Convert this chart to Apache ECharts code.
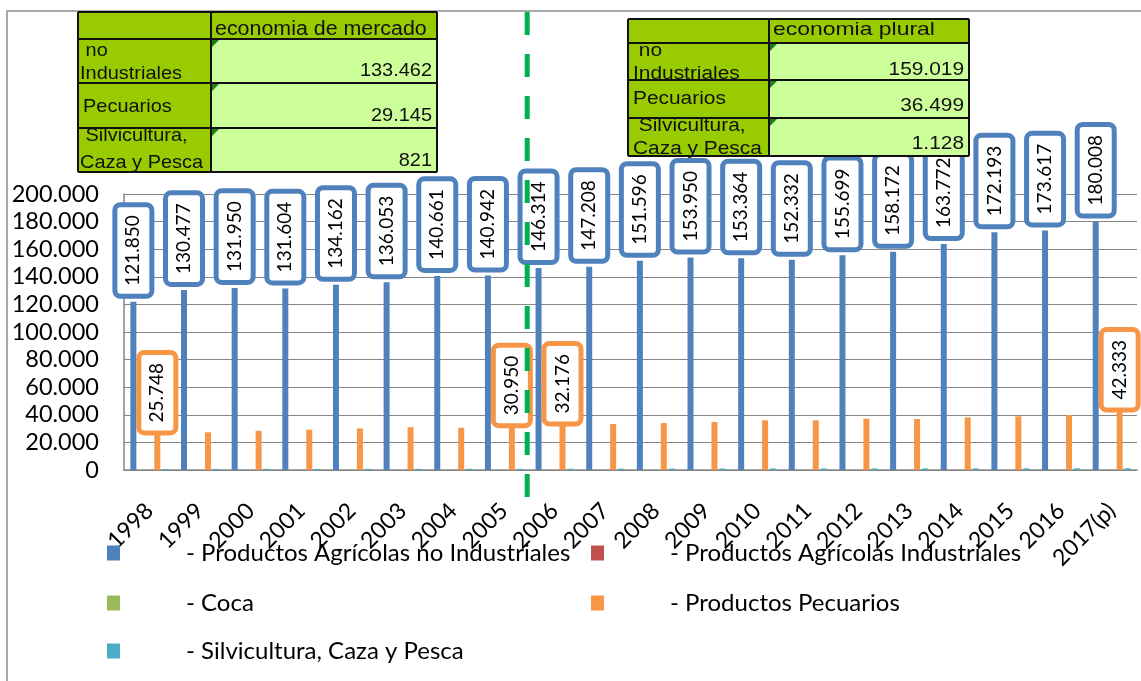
<!DOCTYPE html>
<html><head><meta charset="utf-8">
<script src="https://cdn.jsdelivr.net/npm/echarts@6/dist/echarts.min.js"></script>
<style>html,body{margin:0;padding:0;background:#fff}#c{width:1141px;height:681px}</style>
</head><body><div id="c"></div>
<script>
// ---- data ----
const years = ['1998','1999','2000','2001','2002','2003','2004','2005','2006','2007','2008','2009','2010','2011','2012','2013','2014','2015','2016','2017(p)'];
const agricNoInd = [121850,130477,131950,131604,134162,136053,140661,140942,146314,147208,151596,153950,153364,152332,155699,158172,163772,172193,173617,180008];
const agricInd = [0,0,0,0,0,0,0,0,0,0,0,0,0,0,0,0,0,0,0,0];
const coca = [0,0,0,0,0,0,0,0,0,0,0,0,0,0,0,0,0,0,0,0];
const pecuarios = [25748,27300,28400,29200,30100,31000,30600,30950,32176,33300,34000,34800,36000,36000,37200,36900,38100,38900,39800,42333];
const silvicultura = [760,780,800,810,830,840,850,880,950,1000,1040,1080,1100,1120,1140,1160,1180,1200,1220,1250];
const labelledPecuarios = ['1998','2005','2006','2017(p)'];
const seriesNames = ['- Productos Agrícolas no Industriales','- Productos Agrícolas Industriales','- Coca','- Productos Pecuarios','- Silvicultura, Caza y Pesca'];
const yMin = 0, yMax = 200000, yStep = 20000;
const mercadoHeader = 'economia de mercado';
const pluralHeader = 'economia plural';
const mercadoValues = ['133.462','29.145','821'];
const pluralValues = ['159.019','36.499','1.128'];
const boundaryYears = ['2005','2006'];

// ---- styles ----
const colors = ['#4F81BD','#C0504D','#9BBB59','#F79646','#4BACC6'];
const fmt = v => (v === 0 ? '0' : (v/1000).toFixed(3));
const FONT = 'Lato';
function labelStyle(color, dist){
  return {show:true, position:'top', rotate:90, align:'left', verticalAlign:'middle', distance:dist,
    fontFamily:FONT, fontSize:19, lineHeight:20, color:'#000', backgroundColor:'#fff',
    borderColor:color, borderWidth:5, borderRadius:3, padding:[6,8,6,8],
    formatter: p => fmt(p.value)};
}
const seriesData = [agricNoInd, agricInd, coca, pecuarios, silvicultura];
const series = seriesData.map((d,i) => {
  const s = {name:seriesNames[i], type:'bar', barWidth:6, barGap:'33%', itemStyle:{color:colors[i]}, data:d, z:2};
  if (i === 0) s.label = labelStyle(colors[0], 8);
  if (i === 3) {
    s.data = d.map((v,k) => labelledPecuarios.includes(years[k]) ? {value:v, label:labelStyle(colors[3], 4)} : v);
  }
  return s;
});

const legendPos = [[107,539],[591,539],[107,589],[591,589],[107,637]];
const legends = seriesNames.map((n,i) => ({
  data:[n], left:legendPos[i][0], top:legendPos[i][1], padding:0, orient:'horizontal',
  icon:'rect', itemWidth:13, itemHeight:15, selectedMode:false,
  textStyle:{fontFamily:FONT, fontSize:24, color:'#000', lineHeight:28, padding:[0,0,0,61]}
}));

const chart = echarts.init(document.getElementById('c'), null, {renderer:'canvas'});
chart.setOption({
  animation:false,
  backgroundColor:'#fff',
  color:colors,
  grid:{left:124, right:4, top:194, bottom:211, containLabel:false},
  legend:legends,
  xAxis:{type:'category', data:years, boundaryGap:true,
    axisLine:{lineStyle:{color:'#868686', width:1.5}}, axisTick:{show:false},
    axisLabel:{interval:0, rotate:45, margin:37, fontFamily:FONT, fontSize:23, color:'#000'}},
  yAxis:{type:'value', min:yMin, max:yMax, interval:yStep,
    axisLine:{show:true, lineStyle:{color:'#868686', width:1.5}}, axisTick:{show:false},
    splitLine:{lineStyle:{color:'#868686', width:1}},
    axisLabel:{margin:25, fontFamily:FONT, fontSize:23.5, color:'#000', formatter:fmt}},
  series:series
});

// ---- overlays: frame, tables, divider ----
const DK = '#99CC00', LT = '#CCFF99', TRI = '#1E7B1E', ZT = 100;
function table(L, header, values, fs, sx, hfs, hsx, labelDefs){
  const els = [];
  const [x0,x1,x2] = L.xs, ys = L.ys;
  els.push({type:'rect', z:ZT, shape:{x:x0,y:ys[0],width:x2-x0,height:ys[1]-ys[0]}, style:{fill:DK}});
  for (let r=0;r<3;r++){
    els.push({type:'rect', z:ZT, shape:{x:x0,y:ys[r+1],width:x1-x0,height:ys[r+2]-ys[r+1]}, style:{fill:DK}});
    els.push({type:'rect', z:ZT, shape:{x:x1,y:ys[r+1],width:x2-x1,height:ys[r+2]-ys[r+1]}, style:{fill:LT}});
    els.push({type:'polygon', z:ZT+1, shape:{points:[[x1+1,ys[r+1]+1],[x1+8,ys[r+1]+1],[x1+1,ys[r+1]+8]]}, style:{fill:TRI}});
  }
  const ts = (t,x,y,align,f,s) => ({type:'text', z:ZT+1, x:x, y:y, scaleX:s, style:{text:t, fontFamily:'Liberation Sans', fontSize:f, fill:'#111', align:align, verticalAlign:'middle'}});
  els.push(ts(header, L.hx, L.hy, 'left', hfs, hsx));
  labelDefs.forEach(d => els.push(ts(d[0], d[1], d[2], 'left', fs, sx)));
  values.forEach((v,i) => els.push(ts(v, L.vx, L.vy[i], 'right', fs, sx)));
  ys.forEach(y => els.push({type:'line', z:ZT+2, shape:{x1:x0,y1:y,x2:x2,y2:y}, style:{stroke:'#111', lineWidth:2}}));
  [x0,x1,x2].forEach(x => els.push({type:'line', z:ZT+2, shape:{x1:x,y1:ys[0],x2:x,y2:ys[4]}, style:{stroke:'#111', lineWidth:2}}));
  return els;
}
const Lm = {xs:[78,211,437], ys:[12,39,83,128,172], hx:215, hy:29, vx:432, vy:[71,116,161]};
const Lp = {xs:[628,769,969], ys:[19,43,80,118,156], hx:773, hy:30, vx:964, vy:[70,106,144]};
const rowLabelsM = [[' no',80,51],['Industriales',80,74],['Pecuarios',83,107],[' Silvicultura,',80,136],['Caza y Pesca',80,163]];
const rowLabelsP = [[' no',633,51],['Industriales',633,74],['Pecuarios',633,99],[' Silvicultura,',633,126],['Caza y Pesca',633,149]];

const xa = chart.convertToPixel({xAxisIndex:0}, boundaryYears[0]);
const xb = chart.convertToPixel({xAxisIndex:0}, boundaryYears[1]);
const xDiv = (xa + xb)/2 - 2;

chart.setOption({graphic:[
  {type:'rect', z:-1, silent:true, shape:{x:7,y:11,width:1150,height:700}, style:{fill:null, stroke:'#8C8C8C', lineWidth:1.5}}
].concat(
  table(Lm, mercadoHeader, mercadoValues, 19, 1.05, 20, 1.07, rowLabelsM),
  table(Lp, pluralHeader, pluralValues, 18, 1.16, 18.5, 1.24, rowLabelsP),
  [{type:'line', z:90, shape:{x1:xDiv,y1:12,x2:xDiv,y2:502}, style:{stroke:'#00B050', lineWidth:5, lineDash:[23,19]}}]
)});
</script></body></html>
